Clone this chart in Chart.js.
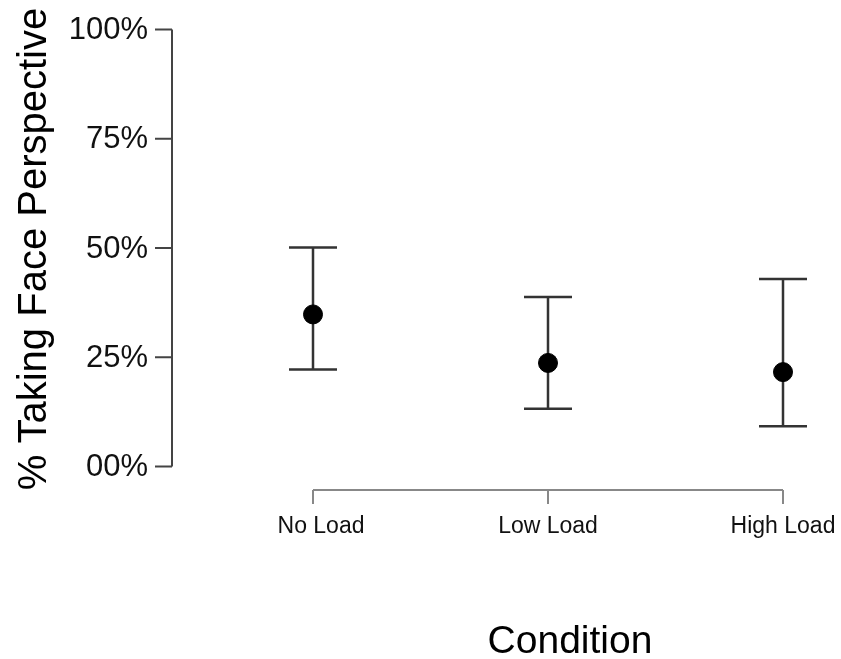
<!DOCTYPE html>
<html>
<head>
<meta charset="utf-8">
<script src="https://cdn.jsdelivr.net/npm/chart.js@4"></script>
<style>
  body { margin: 0; background: #fff; }
  #wrap { width: 841px; height: 659px; }
</style>
</head>
<body>
<div id="wrap"><canvas id="chart" width="841" height="659"></canvas></div>
<script>
// Datos
const conditions = ['No Load', 'Low Load', 'High Load'];
const meanValues = [34.8, 23.7, 21.6];
const upperValues = [50.1, 38.8, 42.9];
const lowerValues = [22.2, 13.2, 9.2];
const yTickValues = [0, 25, 50, 75, 100];
const yTickLabels = ['00%', '25%', '50%', '75%', '100%'];

const FONT = '"Liberation Sans", Arial, sans-serif';

// Plugin para dibujar ejes estilo R y barras de error
const rAxesPlugin = {
    id: 'rAxes',
    beforeDatasetsDraw(chart) {
        const ctx = chart.ctx;
        const x = chart.scales.x;
        const y = chart.scales.y;
        ctx.save();

        // barras de error
        ctx.strokeStyle = '#333';
        ctx.lineWidth = 2.5;
        conditions.forEach((c, i) => {
            const px = x.getPixelForValue(i + 1);
            const top = y.getPixelForValue(upperValues[i]);
            const bot = y.getPixelForValue(lowerValues[i]);
            ctx.beginPath();
            ctx.moveTo(px, top); ctx.lineTo(px, bot);
            ctx.moveTo(px - 24, top); ctx.lineTo(px + 24, top);
            ctx.moveTo(px - 24, bot); ctx.lineTo(px + 24, bot);
            ctx.stroke();
        });

        // eje Y
        const ax = chart.chartArea.left;
        ctx.strokeStyle = '#444';
        ctx.lineWidth = 2;
        ctx.beginPath();
        ctx.moveTo(ax, y.getPixelForValue(0));
        ctx.lineTo(ax, y.getPixelForValue(100));
        yTickValues.forEach(v => {
            const py = y.getPixelForValue(v);
            ctx.moveTo(ax - 17, py); ctx.lineTo(ax, py);
        });
        ctx.stroke();

        ctx.fillStyle = '#111';
        ctx.font = '31px ' + FONT;
        ctx.textAlign = 'right';
        ctx.textBaseline = 'middle';
        yTickValues.forEach((v, i) => {
            ctx.fillText(yTickLabels[i], ax - 24, y.getPixelForValue(v) + 1);
        });

        // eje X
        const axisY = 490;
        ctx.strokeStyle = '#888';
        ctx.lineWidth = 2;
        ctx.beginPath();
        ctx.moveTo(x.getPixelForValue(1), axisY);
        ctx.lineTo(x.getPixelForValue(conditions.length), axisY);
        conditions.forEach((c, i) => {
            const px = x.getPixelForValue(i + 1);
            ctx.moveTo(px, axisY); ctx.lineTo(px, axisY + 14);
        });
        ctx.stroke();

        ctx.font = '23px ' + FONT;
        ctx.textAlign = 'center';
        ctx.textBaseline = 'alphabetic';
        conditions.forEach((c, i) => {
            ctx.fillText(c, x.getPixelForValue(i + 1) + (i === 0 ? 8 : 0), 533);
        });

        // títulos
        ctx.fillStyle = '#000';
        ctx.font = '39px ' + FONT;
        ctx.fillText('Condition', (x.getPixelForValue(1) + x.getPixelForValue(3)) / 2 + 22, 653);

        ctx.translate(46, 249);
        ctx.rotate(-Math.PI / 2);
        ctx.font = '40px ' + FONT;
        ctx.fillText('% Taking Face Perspective', 0, 0);
        ctx.restore();
    }
};

const ctx = document.getElementById('chart').getContext('2d');
new Chart(ctx, {
    type: 'scatter',
    data: {
        datasets: [{
            data: meanValues.map((v, i) => ({ x: i + 1, y: v })),
            backgroundColor: '#000',
            borderColor: '#000',
            pointRadius: 9.5,
            pointHoverRadius: 9.5
        }]
    },
    options: {
        responsive: false,
        animation: false,
        layout: { padding: { left: 172, top: 29.5, bottom: 192.5, right: 11 } },
        plugins: { legend: { display: false }, tooltip: { enabled: false } },
        scales: {
            x: { type: 'linear', min: 0.4, max: 3.2, display: false },
            y: { min: 0, max: 100, display: false }
        }
    },
    plugins: [rAxesPlugin]
});
</script>
</body>
</html>
